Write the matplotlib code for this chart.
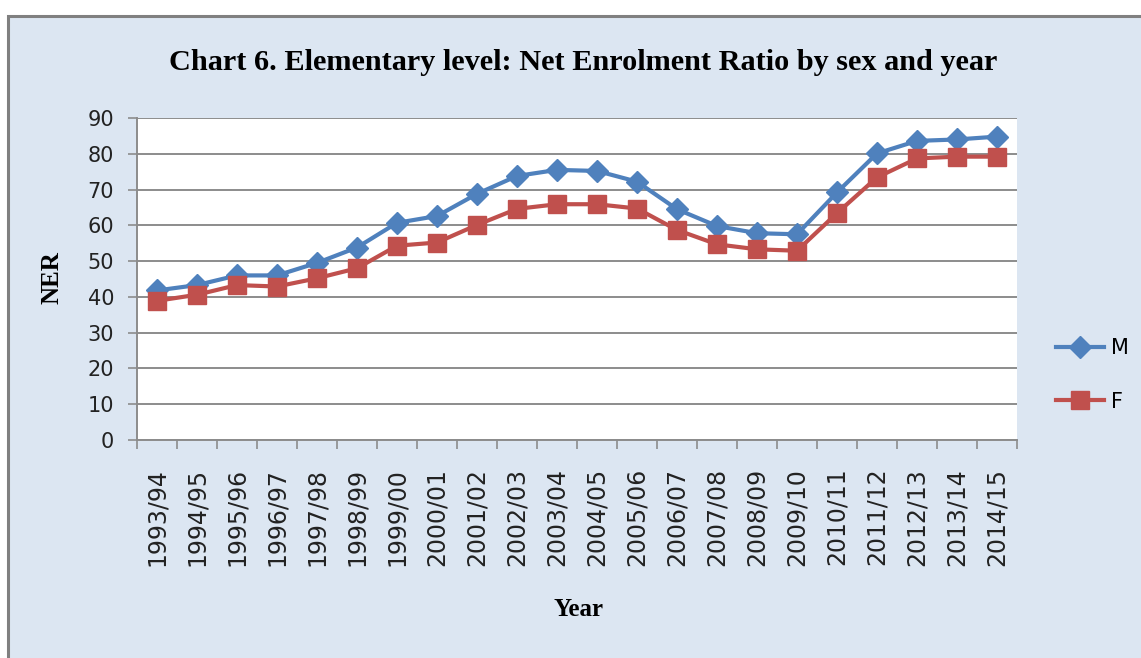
import matplotlib
matplotlib.use("Agg")
import matplotlib.pyplot as plt
from matplotlib.patches import Rectangle

# ---------------------------------------------------------
# data
# ---------------------------------------------------------
years = ["1993/94", "1994/95", "1995/96", "1996/97", "1997/98", "1998/99",
         "1999/00", "2000/01", "2001/02", "2002/03", "2003/04", "2004/05",
         "2005/06", "2006/07", "2007/08", "2008/09", "2009/10", "2010/11",
         "2011/12", "2012/13", "2013/14", "2014/15"]
male = [41.8, 43.3, 46.0, 46.0, 49.5, 53.8, 60.7, 62.6, 68.8, 73.8, 75.5,
        75.2, 72.2, 64.5, 59.8, 57.8, 57.5, 69.2, 80.1, 83.6, 84.0, 84.8]
female = [38.9, 40.6, 43.3, 42.9, 45.2, 48.0, 54.3, 55.2, 60.1, 64.6, 65.9,
          65.9, 64.7, 58.7, 54.7, 53.3, 52.9, 63.4, 73.4, 78.7, 79.2, 79.2]
yticks = list(range(0, 91, 10))

BG = "#DCE6F2"
GRID = "#8C8C8C"
BLUE = "#4F81BD"
RED = "#C0504D"

W, H = 1141, 658
fig = plt.figure(figsize=(W / 100, H / 100), dpi=100)
fig.patch.set_facecolor("white")

# chart area background with the grey frame (left + top visible)
fig.patches.append(Rectangle((8 / W, -0.1), 1.2, 1.1 - 16 / H, transform=fig.transFigure,
                             facecolor=BG, edgecolor="#808080", linewidth=2.2, zorder=-5))

ax = fig.add_axes([137 / W, 1 - 440 / H, 880 / W, 322 / H])
ax.set_facecolor("white")

x = list(range(len(years)))
ax.plot(x, male, color=BLUE, lw=3, marker="D", markersize=11, label="M", zorder=3)
ax.plot(x, female, color=RED, lw=3, marker="s", markersize=13.5, label="F", zorder=3)

ax.set_xlim(-0.5, len(years) - 0.5)
ax.set_ylim(0, 90)
ax.set_yticks(yticks)
ax.grid(axis="y", color=GRID, lw=1.4)
ax.set_axisbelow(True)

for s in ["top", "right"]:
    ax.spines[s].set_visible(False)
for s in ["left", "bottom"]:
    ax.spines[s].set_color(GRID)
    ax.spines[s].set_linewidth(1.4)

ax.set_xticks(x)
ax.set_xticklabels(years, rotation=90, fontsize=17, family="DejaVu Sans", va="top")
ax.set_xticks([i - 0.5 for i in range(len(years) + 1)], minor=True)
ax.tick_params(axis="x", which="major", length=0, pad=20)
ax.tick_params(axis="x", which="minor", length=6.5, color=GRID, width=1.2)
ax.tick_params(axis="y", length=6.5, color=GRID, width=1.2, pad=10, labelsize=15)
for lab in ax.get_yticklabels():
    lab.set_color("#222222")
for lab in ax.get_xticklabels():
    lab.set_color("#222222")

fig.text(583 / W, 1 - 63 / H, "Chart 6. Elementary level: Net Enrolment Ratio by sex and year",
         ha="center", va="center", fontsize=21.8, fontweight="bold", family="Liberation Serif")
fig.text(52 / W, 1 - 278 / H, "NER", rotation=90, ha="center", va="center",
         fontsize=18, fontweight="bold", family="Liberation Serif")
fig.text(578 / W, 1 - 610 / H, "Year", ha="center", va="center",
         fontsize=18, fontweight="bold", family="Liberation Serif")

leg = fig.legend(loc="center left", bbox_to_anchor=(1046 / W, 1 - 375 / H),
                 frameon=False, fontsize=15, handlelength=2.3, labelspacing=1.6,
                 handletextpad=0.3, borderpad=0)

fig.savefig("out.png", dpi=100, facecolor=fig.get_facecolor())
